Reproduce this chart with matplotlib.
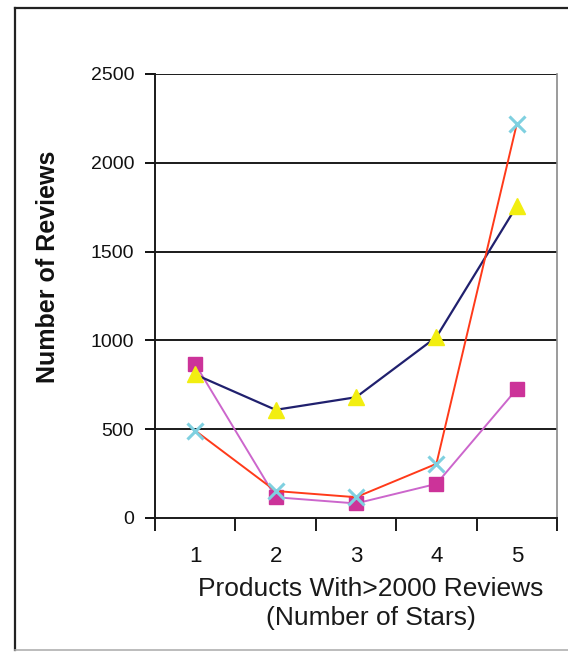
import matplotlib
matplotlib.use("Agg")
import matplotlib.pyplot as plt
from matplotlib.lines import Line2D

# star ratings on the category axis
stars = [1, 2, 3, 4, 5]
star_labels = ["1", "2", "3", "4", "5"]

# number of reviews per star rating, three products
reviews_triangle = [808, 609, 680, 1019, 1757]
reviews_square = [867, 117, 82, 192, 726]
reviews_cross = [492, 152, 117, 305, 2219]

y_ticks = [0, 500, 1000, 1500, 2000, 2500]

plt.rcParams["font.family"] = ["Liberation Sans", "DejaVu Sans"]

fig = plt.figure(figsize=(5.68, 6.53), dpi=100)
ax = fig.add_axes([155 / 568, 1 - 518 / 653, 402 / 568, 444 / 653])

# horizontal grid
for v in y_ticks[1:]:
    ax.axhline(v, color="#1a1a1a", lw=1.4, zorder=1)

ax.plot(stars, reviews_square, color="#cc66cc", lw=1.4, zorder=3,
        marker="s", markersize=10, markerfacecolor="#cc3399",
        markeredgecolor="#cc3399")
ax.plot(stars, reviews_triangle, color="#20206e", lw=1.6, zorder=4,
        marker="^", markersize=11, markerfacecolor="#f2ee10",
        markeredgecolor="#f2ee10")
ax.plot(stars, reviews_cross, color="#ff3a1a", lw=1.4, zorder=5,
        marker="x", markersize=11, markeredgewidth=2.2,
        markeredgecolor="#7fd0e0")

ax.set_xlim(0.5, 5.5)
ax.set_ylim(0, 2500)

ax.set_yticks(y_ticks)
ax.set_yticklabels([str(v) for v in y_ticks], fontsize=14)
ax.tick_params(axis="y", direction="out", length=7, width=1.4, pad=8,
               colors="#111111")

ax.set_xticks(stars)
ax.set_xticklabels(star_labels, fontsize=16)
ax.set_xticks([s + 0.5 for s in [0] + stars], minor=True)
ax.tick_params(axis="x", which="major", length=0, pad=20, colors="#111111")
ax.tick_params(axis="x", which="minor", direction="out", length=9, width=1.4,
               colors="#1a1a1a")

for side in ["left", "bottom"]:
    ax.spines[side].set_linewidth(1.4)
    ax.spines[side].set_color("#1a1a1a")
ax.spines["top"].set_visible(False)
ax.spines["right"].set_color("#8a8a8a")
ax.spines["right"].set_linewidth(1.2)

ax.set_xlabel("Products With>2000 Reviews\n(Number of Stars)",
              fontsize=19, linespacing=1.3, color="#1a1a1a")
ax.xaxis.set_label_coords(0.537, -0.132)
ax.set_ylabel("Number of Reviews", fontsize=18, fontweight="bold",
              color="#111111")
ax.yaxis.set_label_coords(-0.237, 0.565)

# outer chart frame
fig.add_artist(Line2D([15 / 568, 15 / 568], [1 - 650 / 653, 1 - 8 / 653],
                      color="#222222", lw=1.6))
fig.add_artist(Line2D([15 / 568, 1], [1 - 8 / 653, 1 - 8 / 653],
                      color="#222222", lw=1.6))
fig.add_artist(Line2D([15 / 568, 1], [1 - 650 / 653, 1 - 650 / 653],
                      color="#b0b0b0", lw=1.2))

fig.savefig("out.png", dpi=100)
